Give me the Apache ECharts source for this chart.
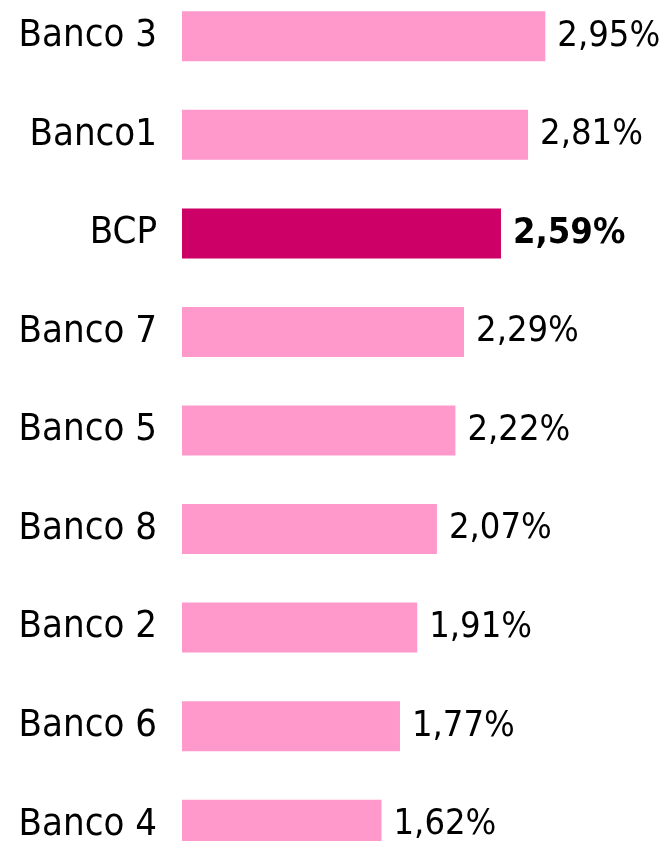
<!DOCTYPE html>
<html>
<head>
<meta charset="utf-8">
<script src="https://cdn.jsdelivr.net/npm/echarts@6/dist/echarts.min.js"></script>
<style>
  html, body { margin: 0; padding: 0; background: #fff; overflow: hidden; }
  /* o gráfico original corta a primeira e a última barra: desloca-se a área */
  #chart { width: 666px; height: 887px; margin-top: -13px; }
</style>
</head>
<body>
<div id="chart"></div>
<script>
// bancos, de cima para baixo
const bancos = ['Banco 3', 'Banco1', 'BCP', 'Banco 7', 'Banco 5', 'Banco 8', 'Banco 2', 'Banco 6', 'Banco 4'];
const taxas = [2.95, 2.81, 2.59, 2.29, 2.22, 2.07, 1.91, 1.77, 1.62];
const destaque = 'BCP';

const FONT = '"DejaVu Sans Condensed", "DejaVu Sans", sans-serif';

var myChart = echarts.init(document.getElementById('chart'));

var option = {
    animation: false,
    grid: {
        left: 182,
        right: 0,
        top: 0,
        bottom: 0,
        containLabel: false
    },
    xAxis: {
        type: 'value',
        min: 0,
        max: 3.93,
        show: false
    },
    yAxis: {
        type: 'category',
        inverse: true,
        data: bancos,
        axisLine: { show: false },
        axisTick: { show: false },
        axisLabel: {
            margin: 25,
            color: '#000',
            fontSize: 38,
            fontFamily: FONT
        }
    },
    series: [{
        type: 'bar',
        barWidth: 50,
        data: taxas.map(function (v, i) {
            var hl = bancos[i] === destaque;
            return {
                value: v,
                itemStyle: { color: hl ? '#CC0066' : '#FF99CC' },
                label: { fontWeight: hl ? 'bold' : 'normal' }
            };
        }),
        label: {
            show: true,
            position: 'right',
            distance: 12,
            color: '#000',
            fontSize: 36,
            fontFamily: FONT,
            formatter: function (p) {
                return p.value.toFixed(2).replace('.', ',') + '%';
            }
        }
    }]
};

myChart.setOption(option);
</script>
</body>
</html>
